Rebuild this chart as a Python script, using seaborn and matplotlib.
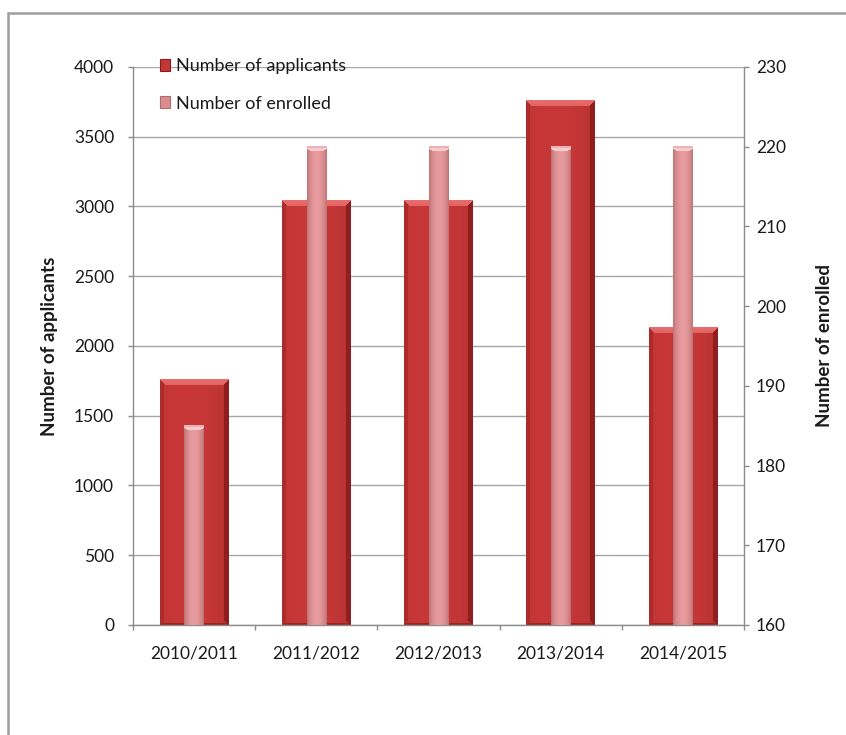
import numpy as np
import pandas as pd
import matplotlib
matplotlib.use("Agg")
import matplotlib.pyplot as plt
from matplotlib.lines import Line2D
from matplotlib.patches import Patch
import seaborn as sns

# Academic years and intake figures
seasons = ["2010/2011", "2011/2012", "2012/2013", "2013/2014", "2014/2015"]
applicants = [1760, 3040, 3040, 3760, 2130]
enrolled = [185, 220, 220, 220, 220]

left_ticks = list(range(0, 4001, 500))
right_ticks = list(range(160, 231, 10))
LEFT_LIM = (0, 4000)
RIGHT_LIM = (160, 230)

sns.set_style("white")
plt.rcParams["font.family"] = ["Lato", "DejaVu Sans"]

df = pd.DataFrame({"season": seasons, "applicants": applicants, "enrolled": enrolled})

fig = plt.figure(figsize=(8.46, 7.35), dpi=100)
ax = fig.add_axes([0.1572, 0.1497, 0.7222, 0.7592])

APP_BODY = (0.76, 0.21, 0.21)
ENR_BODY = (0.86, 0.55, 0.56)

sns.barplot(data=df, x="season", y="applicants", ax=ax, width=0.56,
            color=APP_BODY, saturation=1, linewidth=0, zorder=2)
ax2 = ax.twinx()
sns.barplot(data=df, x="season", y="enrolled", ax=ax2, width=0.16,
            color=ENR_BODY, saturation=1, linewidth=0, zorder=2)

ax.set_xlim(-0.5, len(seasons) - 0.5)
ax.set_ylim(*LEFT_LIM)
ax2.set_ylim(*RIGHT_LIM)
ax.set_yticks(left_ticks)
ax2.set_yticks(right_ticks)

grid_c = "#a6a6a6"
spine_c = "#8c8c8c"
text_c = "#1a1a1a"
FS = 12.5
ax.set_axisbelow(True)
ax.yaxis.grid(True, color=grid_c, linewidth=1.0)
ax.xaxis.grid(False)
ax2.grid(False)
for a in (ax, ax2):
    a.spines["top"].set_visible(False)
    for s in ("left", "right", "bottom"):
        a.spines[s].set_color(spine_c)
        a.spines[s].set_linewidth(1.0)
ax.spines["right"].set_visible(False)
ax2.spines["left"].set_visible(False)
ax2.spines["bottom"].set_visible(False)

ax.tick_params(axis="y", direction="out", length=3.6, width=1, color=spine_c,
               labelsize=FS, pad=10, left=True, labelcolor=text_c)
ax2.tick_params(axis="y", direction="out", length=3.6, width=1, color=spine_c,
                labelsize=FS, pad=5, right=True, labelcolor=text_c)
# category labels centred, tick marks on the category boundaries
ax.set_xticks(range(len(seasons)))
ax.set_xticklabels(seasons)
ax.set_xticks(np.arange(-0.5, len(seasons), 1.0), minor=True)
ax.tick_params(axis="x", which="major", length=0, labelsize=FS, pad=15, labelcolor=text_c)
ax.tick_params(axis="x", which="minor", direction="out", length=3.6, width=1,
               color=spine_c, bottom=True)

ax.set_xlabel("")
ax.set_ylabel("Number of applicants", fontsize=13.5, fontweight="bold", color=text_c)
ax2.set_ylabel("Number of enrolled", fontsize=13.5, fontweight="bold", rotation=90, color=text_c)
ax.yaxis.set_label_coords(-0.122, 0.5)
ax2.yaxis.set_label_coords(1.118, 0.5)


def visible_extent(axes, patch):
    lo, hi = axes.get_ylim()
    x0, y0 = patch.get_x(), patch.get_y()
    x1, y1 = x0 + patch.get_width(), y0 + patch.get_height()
    y0, y1 = max(y0, lo), min(y1, hi)
    (px0, py0), (px1, py1) = axes.transData.transform([(x0, y0), (x1, y1)])
    return (x0, x1, y0, y1), max(int(round(px1 - px0)), 2), max(int(round(py1 - py0)), 2)


def bevel_image(W, H):
    img = np.zeros((H, W, 4))
    r = np.arange(H)[:, None] * np.ones((1, W))
    c = np.ones((H, 1)) * np.arange(W)[None, :]
    t = (c + 0.5) / W
    body = np.array(APP_BODY)
    shade = 1.0 + 0.06 * np.sin(np.pi * t) - 0.05 * t
    img[..., :3] = body * shade[..., None]
    img[..., 3] = 1.0
    b = 6
    dt, dl, dr, db = r, c, W - 1 - c, H - 1 - r
    top = (dt < b) & (dt <= dl) & (dt <= dr)
    left = (dl < 4) & ~top & (dl <= db)
    right = (dr < 5) & ~top & (dr <= db)
    bottom = (db < 2) & ~top & ~left & ~right
    img[left, :3] = (0.68, 0.17, 0.17)
    img[right, :3] = (0.57, 0.12, 0.12)
    img[bottom, :3] = (0.62, 0.14, 0.14)
    topcol = np.array((0.89, 0.38, 0.38))
    fade = (1 - dt / b)[..., None] * 0.25
    img[top, :3] = (topcol * (1 - fade) + np.array((0.98, 0.58, 0.58)) * fade)[top]
    return img


def tube_image(W, H):
    img = np.zeros((H, W, 4))
    r = np.arange(H)[:, None] * np.ones((1, W))
    c = np.ones((H, 1)) * np.arange(W)[None, :]
    t = (c + 0.5) / W
    s = np.sin(np.pi * t) ** 0.7
    edge = np.array((0.72, 0.43, 0.44))
    mid = np.array((0.91, 0.61, 0.62))
    img[..., :3] = edge * (1 - s[..., None]) + mid * s[..., None]
    img[..., 3] = 1.0
    cap = 1.5 + 3.5 * np.sqrt(np.clip(1 - ((t - 0.5) * 2) ** 2, 0, 1))
    img[r < cap, :3] = (0.96, 0.80, 0.80)
    img[r < 1.2, :3] = (0.92, 0.70, 0.70)
    return img


def shade_bars(axes, maker):
    for p in list(axes.patches):
        ext, W, H = visible_extent(axes, p)
        axes.imshow(maker(W, H), extent=ext, origin="upper", aspect="auto",
                    interpolation="bilinear", zorder=2.5)
    axes.set_xlim(-0.5, len(seasons) - 0.5)


shade_bars(ax, bevel_image)
shade_bars(ax2, tube_image)
ax.set_ylim(*LEFT_LIM)
ax2.set_ylim(*RIGHT_LIM)

handles = [Patch(facecolor=APP_BODY, edgecolor=(0.55, 0.1, 0.1), linewidth=0.8),
           Patch(facecolor=ENR_BODY, edgecolor=(0.7, 0.42, 0.43), linewidth=0.8)]
fig.legend(handles, ["Number of applicants", "Number of enrolled"],
           loc="upper left", bbox_to_anchor=(0.178, 0.933), frameon=False,
           fontsize=13, handlelength=0.6, handleheight=0.6, handletextpad=0.3,
           labelspacing=1.18, borderpad=0, labelcolor=text_c)

# outer chart frame (top and left edges)
frame_c = "#9e9e9e"
fig.add_artist(Line2D([8 / 846, 1.0], [1 - 13 / 735] * 2, transform=fig.transFigure,
                      color=frame_c, linewidth=1.8))
fig.add_artist(Line2D([8 / 846] * 2, [0.0, 1 - 13 / 735], transform=fig.transFigure,
                      color=frame_c, linewidth=1.8))

fig.savefig("out.png", dpi=100, facecolor="white")
